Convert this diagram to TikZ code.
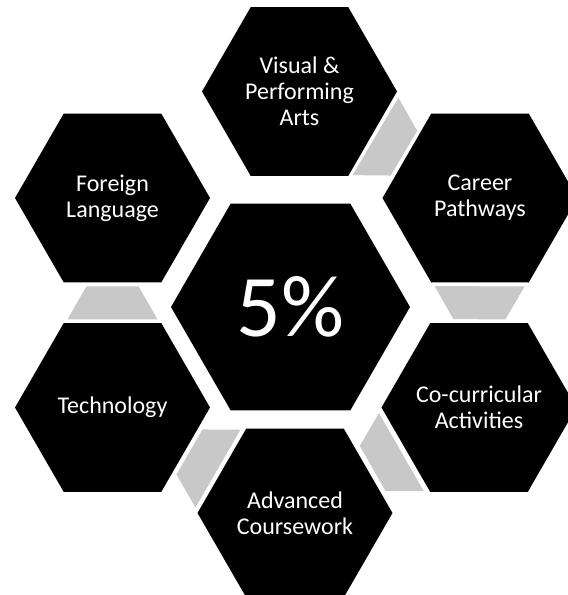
\documentclass[tikz,border=0pt]{standalone}
\usepackage{fontspec}
\setmainfont{Carlito}
\usetikzlibrary{shapes.geometric,calc}
\definecolor{linkgray}{RGB}{200,200,200}
\begin{document}
\begin{tikzpicture}[x=1pt,y=-1pt]
	\tikzstyle{hexa}=[regular polygon,regular polygon sides=6,fill=black,text=white,inner sep=-20pt,outer sep=0pt,minimum size=195pt,align=center,font=\fontsize{24}{26}\selectfont]
	\useasboundingbox (0,0) rectangle (568,595);
	\node[hexa,minimum size=239pt,font=\fontsize{88}{88}\selectfont] (mid) at (290.5,307) {5\%};
	\node[hexa] (vpa) at (299.5,91.5) {Visual \&\\Performing\\Arts};
	\node[hexa] (career) at (480,198) {Career\\Pathways};
	\node[hexa] (cocurr) at (479,407.5) {Co-curricular\\Activities};
	\node[hexa] (adv) at (295,513) {Advanced\\Coursework};
	\node[hexa] (tech) at (112.5,407.5) {Technology};
	\node[hexa] (foreign) at (112.5,198) {Foreign\\Language};
	\foreach \a/\b in {vpa/career,career/cocurr,cocurr/adv,adv/tech,tech/foreign}
		\fill[linkgray] let \p1=($(\b)-(\a)$),\n1={atan2(\y1,\x1)} in
			[shift={($(\a)!0.5!(\b)$)},rotate=\n1]
			(-16.5,-45) -- (-16.5,45) -- (16.5,26) -- (16.5,-26) -- cycle;
\end{tikzpicture}
\end{document}
